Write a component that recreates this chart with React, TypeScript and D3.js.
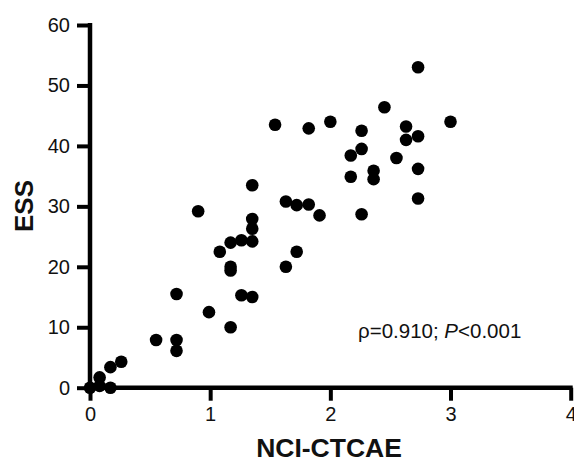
import React, { useEffect, useRef } from "react";
import * as d3 from "d3";

const nciValues: number[] = [
  0, 0.08, 0.08, 0.17, 0.17, 0.26, 0.55, 0.72, 0.72, 0.72,
  0.99, 1.17, 1.26, 1.35, 1.17, 1.17, 1.08, 1.17, 1.26, 1.35,
  1.35, 1.35, 1.35, 0.9, 1.63, 1.72, 1.63, 1.72, 1.82, 1.91,
  1.54, 1.82, 2.0, 2.26, 2.17, 2.17, 2.26, 2.26, 2.36, 2.36,
  2.45, 2.55, 2.63, 2.63, 2.73, 2.73, 2.73, 2.73, 3.0,
];
const essValues: number[] = [
  0, 0.3, 1.7, 0, 3.4, 4.3, 7.9, 7.9, 6.1, 15.5,
  12.5, 10.0, 15.3, 15.0, 19.4, 20.0, 22.5, 24.0, 24.4, 24.2,
  26.3, 27.9, 33.5, 29.2, 20.0, 22.5, 30.8, 30.2, 30.3, 28.5,
  43.5, 42.9, 44.0, 28.7, 34.9, 38.4, 39.5, 42.5, 35.9, 34.5,
  46.4, 38.0, 41.0, 43.2, 41.6, 36.2, 31.3, 53.0, 44.0,
];
const xTicks: number[] = [0, 1, 2, 3, 4];
const yTicks: number[] = [0, 10, 20, 30, 40, 50, 60];
const xTitle = "NCI-CTCAE";
const yTitle = "ESS";

const W = 574;
const H = 460;
const FONT = "'Liberation Sans', Arial, sans-serif";

export default function App() {
  const gx = useRef<SVGGElement>(null);
  const gy = useRef<SVGGElement>(null);

  const x = d3.scaleLinear().domain([0, 4]).range([90, 570.7]);
  const y = d3.scaleLinear().domain([0, 60]).range([387.7, 25]);

  useEffect(() => {
    if (gx.current) {
      const ax = d3.axisBottom(x).tickValues(xTicks).tickSize(13).tickPadding(6).tickSizeOuter(0).tickFormat(d3.format("d"));
      const s = d3.select(gx.current);
      s.call(ax as any);
      s.select(".domain").attr("stroke", "#000").attr("stroke-width", 4.5).attr("d", `M${x(0) - 2},0H${x(4) + 2}`);
      s.selectAll(".tick line").attr("stroke", "#000").attr("stroke-width", 4);
      s.selectAll(".tick text").attr("fill", "#111").style("font-size", "20px").style("font-family", FONT);
    }
    if (gy.current) {
      const ay = d3.axisLeft(y).tickValues(yTicks).tickSize(13).tickPadding(7).tickSizeOuter(0).tickFormat(d3.format("d"));
      const s = d3.select(gy.current);
      s.call(ay as any);
      s.select(".domain").attr("stroke", "#000").attr("stroke-width", 4.5).attr("d", `M0,${y(0) + 2}V${y(60) - 2}`);
      s.selectAll(".tick line").attr("stroke", "#000").attr("stroke-width", 4);
      s.selectAll(".tick text").attr("fill", "#111").style("font-size", "20px").style("font-family", FONT);
    }
  }, []);

  const pts = nciValues.map((v, i) => ({ x: v, y: essValues[i] }));

  return (
    <svg
      width={W}
      height={H}
      viewBox={`0 0 ${W} ${H}`}
      style={{ position: "absolute", left: 0, top: 0, background: "#fff" }}
    >
      <rect x={0} y={0} width={W} height={H} fill="#fff" />
      <g ref={gy} transform={`translate(${x(0)},0)`} />
      <g ref={gx} transform={`translate(0,${y(0)})`} />
      {pts.map((p, i) => (
        <circle key={i} cx={x(p.x)} cy={y(p.y)} r={6.3} fill="#000" />
      ))}
      <text x={358} y={338} fontFamily={FONT} fontSize={20.5} fill="#111">
        ρ=0.910; <tspan fontStyle="italic">P</tspan>&lt;0.001
      </text>
      <text
        x={329}
        y={457}
        textAnchor="middle"
        fontFamily={FONT}
        fontSize={26.5}
        fontWeight="bold"
        fill="#111"
      >
        {xTitle}
      </text>
      <text
        transform={`translate(33,206) rotate(-90)`}
        textAnchor="middle"
        fontFamily={FONT}
        fontSize={26}
        fontWeight="bold"
        fill="#111"
      >
        {yTitle}
      </text>
    </svg>
  );
}
